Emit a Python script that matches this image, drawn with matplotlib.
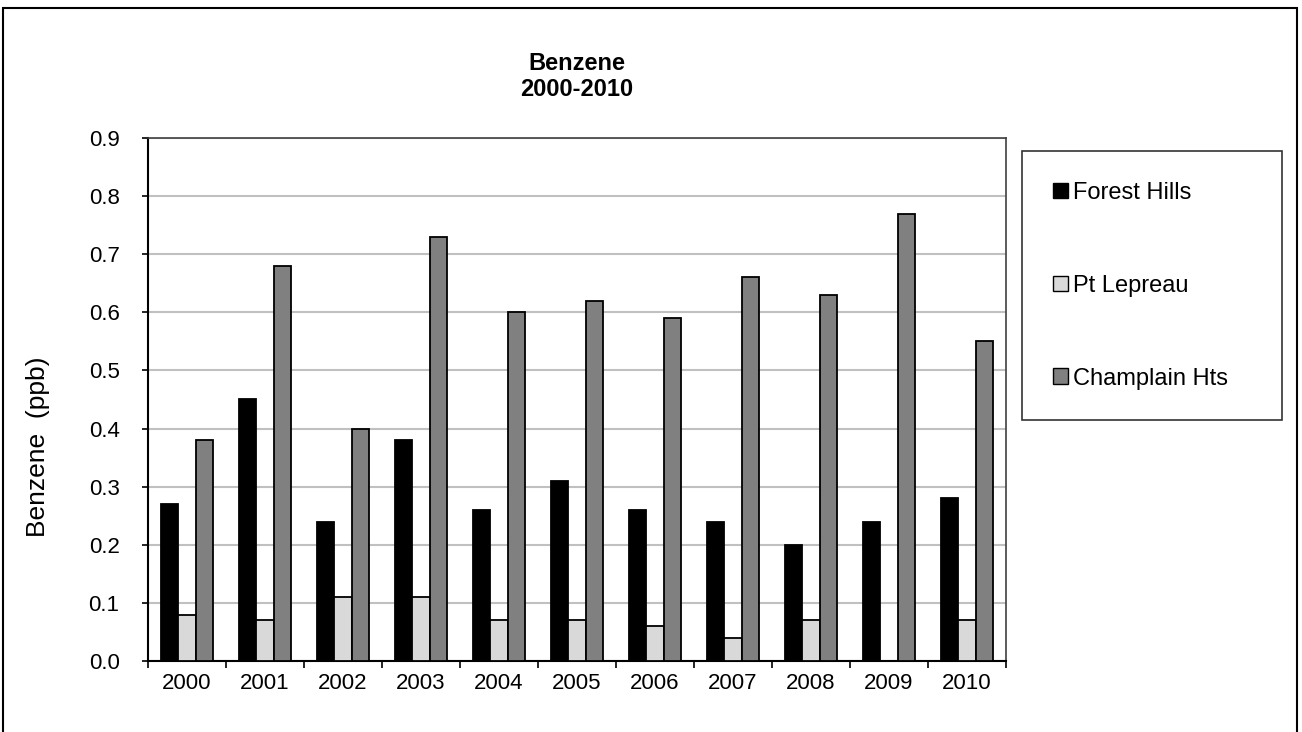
import numpy as np
import matplotlib
matplotlib.use("Agg")
import matplotlib.pyplot as plt
from matplotlib.patches import Rectangle

years = ["2000", "2001", "2002", "2003", "2004", "2005", "2006", "2007", "2008", "2009", "2010"]
forest_hills = [0.27, 0.45, 0.24, 0.38, 0.26, 0.31, 0.26, 0.24, 0.20, 0.24, 0.28]
pt_lepreau = [0.08, 0.07, 0.11, 0.11, 0.07, 0.07, 0.06, 0.04, 0.07, np.nan, 0.07]
champlain_hts = [0.38, 0.68, 0.40, 0.73, 0.60, 0.62, 0.59, 0.66, 0.63, 0.77, 0.55]

series = [
    ("Forest Hills", forest_hills, "#000000"),
    ("Pt Lepreau", pt_lepreau, "#d9d9d9"),
    ("Champlain Hts", champlain_hts, "#808080"),
]

plt.rcParams["font.family"] = ["Liberation Sans", "DejaVu Sans"]

fig = plt.figure(figsize=(13.02, 7.32), dpi=100)
ax = fig.add_axes([0.1137, 0.0970, 0.6590, 0.7145])

x = np.arange(len(years))
w = 1 / 4.5
for i, (name, vals, col) in enumerate(series):
    ax.bar(x + (i - 1) * w, vals, width=w, color=col, edgecolor="black",
           linewidth=1.3, label=name, zorder=3)

ax.set_xlim(-0.5, len(years) - 0.5)
ax.set_ylim(0, 0.9)
yt = np.arange(0, 0.91, 0.1)
ax.set_yticks(yt)
ax.set_yticklabels([f"{v:.1f}" for v in yt])
ax.yaxis.grid(True, color="#c0c0c0", linewidth=1.5, zorder=0)
ax.set_axisbelow(True)

ax.set_xticks(x)
ax.set_xticklabels(years)
ax.set_xticks(np.arange(-0.5, len(years)), minor=True)
ax.tick_params(axis="x", which="major", length=0, labelsize=16, pad=9)
ax.tick_params(axis="x", which="minor", length=5, width=1.2, direction="out")
ax.tick_params(axis="y", length=4.5, width=1.2, direction="out", labelsize=16, pad=16)

for s in ["left", "bottom"]:
    ax.spines[s].set_linewidth(1.5)
    ax.spines[s].set_color("black")
for s in ["top", "right"]:
    ax.spines[s].set_linewidth(1.2)
    ax.spines[s].set_color("#404040")

ax.set_ylabel("Benzene  (ppb)", fontsize=19)
ax.yaxis.set_label_coords(-0.114, 0.41)
ax.set_title("Benzene\n2000-2010", fontsize=17, fontweight="bold", pad=30,
             linespacing=1.2)

leg = fig.legend(loc="upper left", bbox_to_anchor=(0.785, 0.4235, 0.2, 0.37),
                 mode="expand", fontsize=17, frameon=True, fancybox=False,
                 edgecolor="black", borderpad=1.3, labelspacing=3.0,
                 handlelength=0.64, handleheight=0.64, handletextpad=0.2,
                 borderaxespad=0)
leg.get_frame().set_linewidth(1.2)
for h in leg.legend_handles:
    h.set_linewidth(1.0)

fig.patches.append(Rectangle((0.0023, -0.02), 0.9939, 1.009, transform=fig.transFigure,
                             fill=False, edgecolor="black", linewidth=1.5))

fig.savefig("out.png", dpi=100)
